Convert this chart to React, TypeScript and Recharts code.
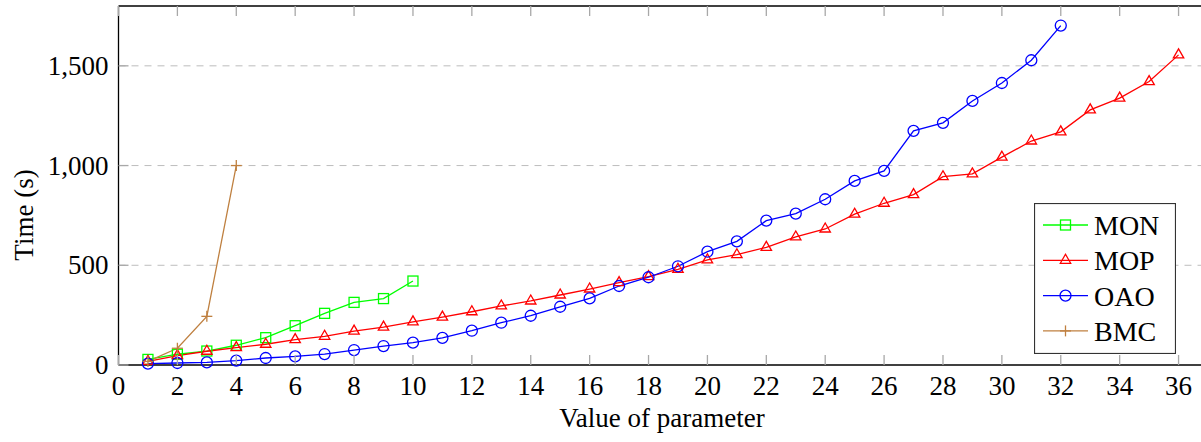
import { CartesianGrid, Label, Legend, Line, LineChart, XAxis, YAxis } from 'recharts'

// parameter values on the x axis
const params = [
  1, 2, 3, 4, 5, 6, 7, 8, 9, 10, 11, 12, 13, 14, 15, 16, 17, 18, 19, 20, 21, 22, 23, 24, 25, 26,
  27, 28, 29, 30, 31, 32, 33, 34, 35, 36,
]

// times in seconds
const mon = [28, 54, 70, 99, 137, 197, 259, 314, 333, 421]
const mop = [
  18, 47, 69, 87, 104, 127, 144, 170, 190, 216, 240, 267, 296, 321, 351, 381, 413, 443, 480, 527,
  553, 590, 642, 682, 756, 811, 854, 944, 958, 1042, 1123, 1169, 1279, 1338, 1421, 1555,
]
const oao = [
  7, 10, 13, 22, 35, 43, 55, 75, 95, 112, 136, 172, 212, 247, 292, 334, 396, 440, 495, 568, 620,
  724, 759, 831, 923, 973, 1174, 1214, 1324, 1414, 1528, 1702,
]
const bmc = [18, 84, 244, 1000]

const xTicks = [0, 2, 4, 6, 8, 10, 12, 14, 16, 18, 20, 22, 24, 26, 28, 30, 32, 34, 36]
const yTicks = [0, 500, 1000, 1500]

const data = params.map((p, i) => ({
  p,
  MON: mon[i],
  MOP: mop[i],
  OAO: oao[i],
  BMC: bmc[i],
}))

const GREEN = '#00ff00'
const RED = '#ff0000'
const BLUE = '#0000ff'
const BROWN = '#bf8040'
const TICK = '#a8a8a8'
const FONT = 'Liberation Serif, serif'
const FS = 27
const txt = { fontFamily: FONT, fontSize: FS }

function Marker({ kind, cx, cy, color }: { kind: string; cx: number; cy: number; color: string }) {
  if (kind === 'square')
    return <rect x={cx - 5} y={cy - 5} width={10} height={10} fill='none' stroke={color} strokeWidth={1.3} />
  if (kind === 'circle') return <circle cx={cx} cy={cy} r={5.5} fill='none' stroke={color} strokeWidth={1.3} />
  if (kind === 'triangle') {
    const r = 6
    const pts = `${cx},${cy - r} ${cx - 0.866 * r},${cy + 0.5 * r} ${cx + 0.866 * r},${cy + 0.5 * r}`
    return <polygon points={pts} fill='none' stroke={color} strokeWidth={1.3} />
  }
  return (
    <g stroke={color} strokeWidth={1.3}>
      <line x1={cx - 5.5} x2={cx + 5.5} y1={cy} y2={cy} />
      <line x1={cx} x2={cx} y1={cy - 5.5} y2={cy + 5.5} />
    </g>
  )
}

const dotFor = (kind: string, color: string) => (props: any) => {
  const { cx, cy, index } = props
  if (cx == null || cy == null || Number.isNaN(cy)) return <g key={index} />
  return (
    <g key={index}>
      <Marker kind={kind} cx={cx} cy={cy} color={color} />
    </g>
  )
}

const BottomTick = (props: any) => {
  const { x, y, payload } = props
  return (
    <g>
      <line x1={x} x2={x} y1={y} y2={y - 10} stroke={TICK} strokeWidth={1.3} />
      <text x={x} y={y + 30} textAnchor='middle' style={txt} fill='#000'>
        {payload.value}
      </text>
    </g>
  )
}

const TopTick = (props: any) => {
  const { x, y } = props
  return <line x1={x} x2={x} y1={y} y2={y + 10} stroke={TICK} strokeWidth={1.3} />
}

const LeftTick = (props: any) => {
  const { x, y, payload } = props
  return (
    <g>
      <line x1={x} x2={x + 10} y1={y} y2={y} stroke={TICK} strokeWidth={1.3} />
      <text x={x - 10} y={y + 9} textAnchor='end' style={txt} fill='#000'>
        {Number(payload.value).toLocaleString('en-US')}
      </text>
    </g>
  )
}

const RightTick = (props: any) => {
  const { x, y } = props
  return <line x1={x} x2={x - 10} y1={y} y2={y} stroke={TICK} strokeWidth={1.3} />
}

const legendRows = [
  { name: 'MON', kind: 'square', color: GREEN },
  { name: 'MOP', kind: 'triangle', color: RED },
  { name: 'OAO', kind: 'circle', color: BLUE },
  { name: 'BMC', kind: 'plus', color: BROWN },
]

function LegendBox() {
  return (
    <svg width={142} height={151} style={{ display: 'block' }}>
      <rect x={0.5} y={0.5} width={141} height={150} fill='#fff' stroke='#333' strokeWidth={1.2} />
      {legendRows.map((r, i) => {
        const cy = 22 + i * 35.3
        return (
          <g key={r.name}>
            <line x1={9} x2={54} y1={cy} y2={cy} stroke={r.color} strokeWidth={1.3} />
            <Marker kind={r.kind} cx={31.5} cy={cy} color={r.color} />
            <text x={60} y={cy + 10} style={{ fontFamily: FONT, fontSize: FS + 1 }} fill='#000'>
              {r.name}
            </text>
          </g>
        )
      })}
    </svg>
  )
}

export default function App() {
  return (
    <div
      style={{
        position: 'absolute',
        left: 0,
        top: 0,
        width: 1201,
        height: 442,
        overflow: 'hidden',
        background: '#fff',
        fontFamily: FONT,
      }}
    >
      <LineChart width={1209} height={442} data={data} margin={{ top: 5, right: 0, left: 0, bottom: 0 }}>
        <CartesianGrid horizontal vertical={false} stroke='#bdbdbd' strokeDasharray='7 6' horizontalValues={[500, 1000, 1500]} />
        <XAxis
          dataKey='p'
          type='number'
          domain={[0, 37]}
          ticks={xTicks}
          interval={0}
          height={77}
          tickSize={0}
          tickMargin={0}
          tickLine={false}
          axisLine={{ stroke: '#000', strokeWidth: 1.3 }}
          tick={<BottomTick />}
        >
          <Label
            content={() => (
              <text x={662} y={427} textAnchor='middle' style={txt} fill='#000'>
                Value of parameter
              </text>
            )}
          />
        </XAxis>
        <XAxis
          xAxisId='top'
          orientation='top'
          dataKey='p'
          type='number'
          domain={[0, 37]}
          ticks={xTicks}
          interval={0}
          height={1}
          tickSize={0}
          tickMargin={0}
          tickLine={false}
          axisLine={{ stroke: '#000', strokeWidth: 1.3 }}
          tick={<TopTick />}
        />
        <YAxis
          type='number'
          domain={[0, 1800]}
          ticks={yTicks}
          interval={0}
          width={118.5}
          tickSize={0}
          tickMargin={0}
          tickLine={false}
          axisLine={{ stroke: '#000', strokeWidth: 1.3 }}
          tick={<LeftTick />}
        >
          <Label
            content={() => (
              <text x={33} y={215} transform='rotate(-90, 33, 215)' textAnchor='middle' style={txt} fill='#000'>
                Time (s)
              </text>
            )}
          />
        </YAxis>
        <YAxis
          yAxisId='right'
          orientation='right'
          type='number'
          domain={[0, 1800]}
          ticks={yTicks}
          interval={0}
          width={1}
          tickSize={0}
          tickMargin={0}
          tickLine={false}
          axisLine={{ stroke: '#000', strokeWidth: 1.3 }}
          tick={<RightTick />}
        />
        <Legend
          layout='vertical'
          align='center'
          verticalAlign='middle'
          content={() => <LegendBox />}
          wrapperStyle={{ position: 'absolute', left: 1034, top: 203, width: 142, height: 151 }}
        />
        <Line dataKey='MON' stroke={GREEN} strokeWidth={1.3} dot={dotFor('square', GREEN)} isAnimationActive={false} />
        <Line dataKey='MOP' stroke={RED} strokeWidth={1.3} dot={dotFor('triangle', RED)} isAnimationActive={false} />
        <Line dataKey='OAO' stroke={BLUE} strokeWidth={1.3} dot={dotFor('circle', BLUE)} isAnimationActive={false} />
        <Line dataKey='BMC' stroke={BROWN} strokeWidth={1.3} dot={dotFor('plus', BROWN)} isAnimationActive={false} />
      </LineChart>
    </div>
  )
}
